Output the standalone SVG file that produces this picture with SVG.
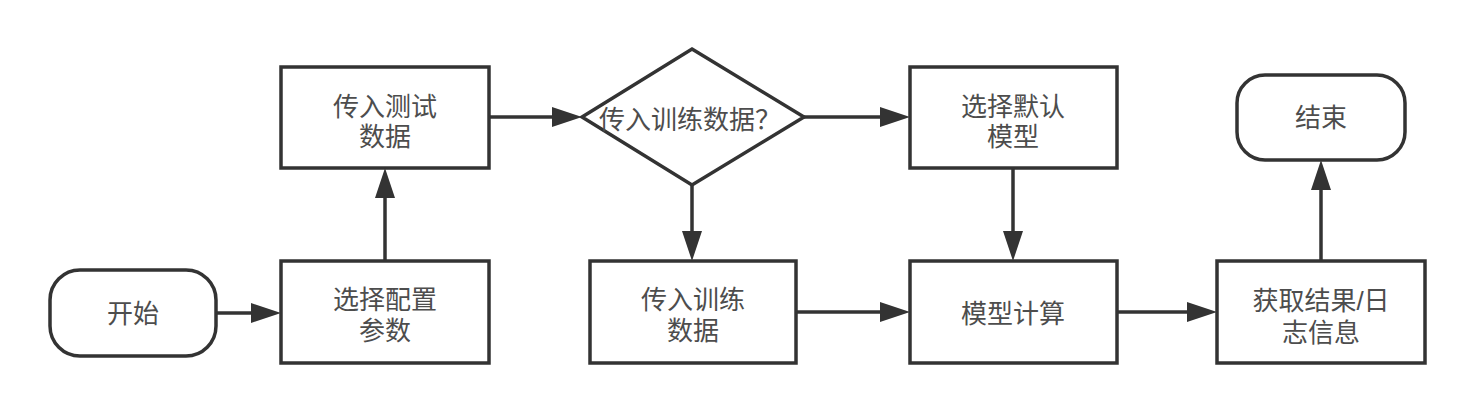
<svg xmlns="http://www.w3.org/2000/svg" width="1472" height="413" viewBox="0 0 1472 413">
  <style>
    .shape { fill: #ffffff; stroke: #333333; stroke-width: 3.5; }
    .edge { fill: none; stroke: #333333; stroke-width: 3.5; }
    .label { font-family: "Liberation Sans", "Noto Sans CJK SC", sans-serif; font-size: 26px; fill: #4d4d4d; text-anchor: middle; }
  </style>
  <defs>
    <marker id="arrow" markerUnits="userSpaceOnUse" markerWidth="30" markerHeight="20" refX="0" refY="10" orient="auto">
      <path d="M0,0 L30,10 L0,20 Z" fill="#333333"/>
    </marker>
  </defs>
  <rect width="1472" height="413" fill="#ffffff"/>

  <g id="connectors">
    <line class="edge" x1="216" y1="313" x2="251" y2="313" marker-end="url(#arrow)"/>
    <line class="edge" x1="385" y1="261" x2="385" y2="198" marker-end="url(#arrow)"/>
    <line class="edge" x1="489" y1="117" x2="552" y2="117" marker-end="url(#arrow)"/>
    <line class="edge" x1="804" y1="117" x2="880" y2="117" marker-end="url(#arrow)"/>
    <line class="edge" x1="692" y1="185" x2="692" y2="231" marker-end="url(#arrow)"/>
    <line class="edge" x1="1013" y1="168" x2="1013" y2="231" marker-end="url(#arrow)"/>
    <line class="edge" x1="796" y1="312" x2="880" y2="312" marker-end="url(#arrow)"/>
    <line class="edge" x1="1117" y1="312" x2="1187" y2="312" marker-end="url(#arrow)"/>
    <line class="edge" x1="1321" y1="261" x2="1321" y2="190" marker-end="url(#arrow)"/>
  </g>

  <g id="start">
    <rect class="shape" x="50" y="270" width="166" height="86" rx="30" ry="30"/>
    <text class="label" x="133" y="323">开始</text>
  </g>

  <g id="select-config">
    <rect class="shape" x="281" y="261" width="208" height="102"/>
    <text class="label" x="385" y="309">选择配置</text>
    <text class="label" x="385" y="340">参数</text>
  </g>

  <g id="input-test">
    <rect class="shape" x="281" y="67" width="208" height="101"/>
    <text class="label" x="385" y="116">传入测试</text>
    <text class="label" x="385" y="146">数据</text>
  </g>

  <g id="decision">
    <polygon class="shape" points="692,49 804,117 692,185 582,117"/>
    <text class="label" x="690" y="129">传入训练数据？</text>
  </g>

  <g id="default-model">
    <rect class="shape" x="910" y="67" width="207" height="101"/>
    <text class="label" x="1013" y="116">选择默认</text>
    <text class="label" x="1013" y="146">模型</text>
  </g>

  <g id="input-train">
    <rect class="shape" x="590" y="261" width="206" height="102"/>
    <text class="label" x="693" y="309">传入训练</text>
    <text class="label" x="693" y="340">数据</text>
  </g>

  <g id="compute">
    <rect class="shape" x="910" y="261" width="207" height="102"/>
    <text class="label" x="1013" y="323">模型计算</text>
  </g>

  <g id="get-result">
    <rect class="shape" x="1217" y="261" width="208" height="102"/>
    <text class="label" x="1321" y="310">获取结果/日</text>
    <text class="label" x="1321" y="342">志信息</text>
  </g>

  <g id="end">
    <rect class="shape" x="1237" y="75" width="168" height="85" rx="28" ry="28"/>
    <text class="label" x="1321" y="127">结束</text>
  </g>
</svg>
